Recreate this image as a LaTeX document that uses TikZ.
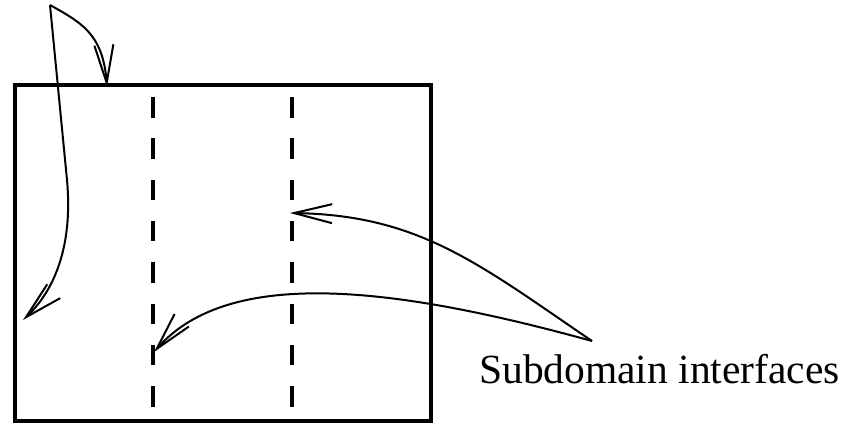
\documentclass[tikz,border=0pt]{standalone}
\usepackage{fontspec}
\setmainfont{Liberation Serif}
\usetikzlibrary{arrows.meta}
\begin{document}
\begin{tikzpicture}[x=1pt,y=-1pt,
  frame/.style={line width=4pt},
  iface/.style={line width=3.6pt,dash pattern=on 20.5pt off 20.8pt},
  pointer/.style={line width=2pt,-{Straight Barb[length=38pt,width=19pt,line width=2pt]}},
  label/.style={font=\fontsize{41.5}{46}\selectfont,inner sep=0pt,anchor=base west}]
\useasboundingbox (0,0) rectangle (844,423);
\draw[frame] (15,85) rectangle (430.5,420.5);
\coordinate (i1top) at (153,97);
\coordinate (i1bot) at (153,407);
\coordinate (i2top) at (292,97);
\coordinate (i2bot) at (292,407);
\draw[iface] (i1top) -- (i1bot);
\draw[iface] (i2top) -- (i2bot);
\coordinate (apexA) at (50,5);
\coordinate (tipA1) at (107,87);
\coordinate (bendA) at (67,180);
\coordinate (tipA2) at (23,320);
\draw[pointer] (apexA) .. controls (80,22) and (103,33) .. (tipA1);
\draw[pointer] (apexA) -- (bendA) .. controls (73,245) and (55,290) .. (tipA2);
\node[label] (sub) at (479,383) {Subdomain interfaces};
\coordinate (apexB) at (592,341);
\coordinate (tipB1) at (290,213);
\coordinate (tipB2) at (154,352);
\draw[pointer] (apexB) .. controls (480,265) and (420,215) .. (tipB1);
\draw[pointer] (apexB) .. controls (400,288) and (230,265) .. (tipB2);
\end{tikzpicture}
\end{document}
